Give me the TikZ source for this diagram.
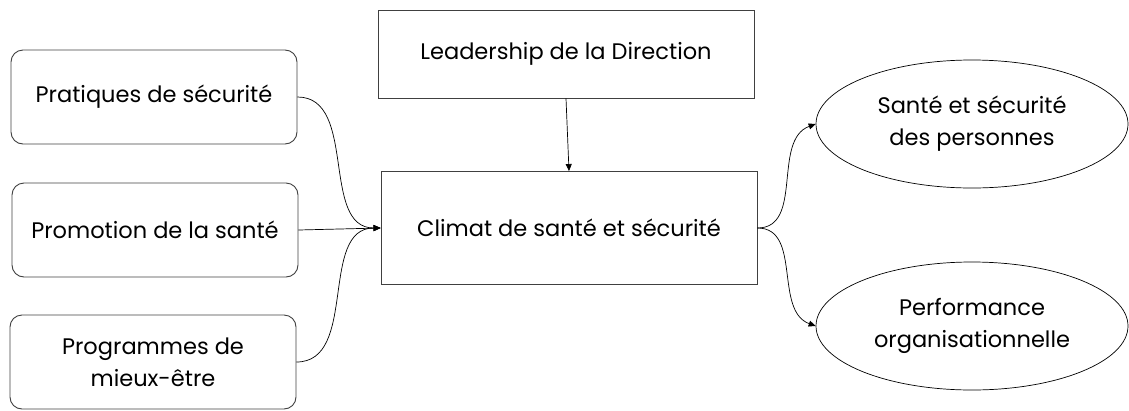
\documentclass[tikz,border=0pt]{standalone}
\usepackage{fontspec}
\setmainfont{Poppins}
\usetikzlibrary{arrows.meta,
                shapes.geometric}
\tikzset{source/.style={draw=black!75, line width=0.9pt, rounded corners=12pt,
            minimum width=286pt, minimum height=94pt, align=center},
    block/.style={draw=black!75, line width=0.9pt, minimum width=376pt, align=center},
    outcome/.style={ellipse, draw=black, line width=0.7pt, minimum width=312pt,
            minimum height=128pt, inner sep=0pt, align=center},
    link/.style={-{Triangle[length=7pt,width=6pt]}, line width=0.7pt}}

\begin{document}
\begin{tikzpicture}[x=1pt,y=-1pt,font=\fontsize{22.5}{32}\selectfont]
        \useasboundingbox (0,0) rectangle (1129,410);
        \node[source] (pratiques) at (154,97) {Pratiques de sécurité};
        \node[source] (promotion) at (155,230) {Promotion de la santé};
        \node[source] (programmes) at (153,362) {Programmes de\\mieux-être};
        \node[block, minimum height=88pt] (leadership) at (566,54) {Leadership de la Direction};
        \node[block, minimum height=113pt] (climat) at (569,228) {Climat de santé et sécurité};
        \node[outcome] (sante) at (972,124) {Santé et sécurité\\des personnes};
        \node[outcome] (performance) at (972,326) {Performance\\organisationnelle};
        \draw[link] (pratiques.east) to[out=0, in=180] (climat.west);
        \draw[link] (promotion.east) -- (climat.west);
        \draw[link] (programmes.east) to[out=0, in=180] (climat.west);
        \draw[link] (leadership.south) -- (climat.north);
        \draw[link] (climat.east) to[out=0, in=200] (sante.west);
        \draw[link] (climat.east) to[out=0, in=160] (performance.west);
    \end{tikzpicture}
\end{document}
